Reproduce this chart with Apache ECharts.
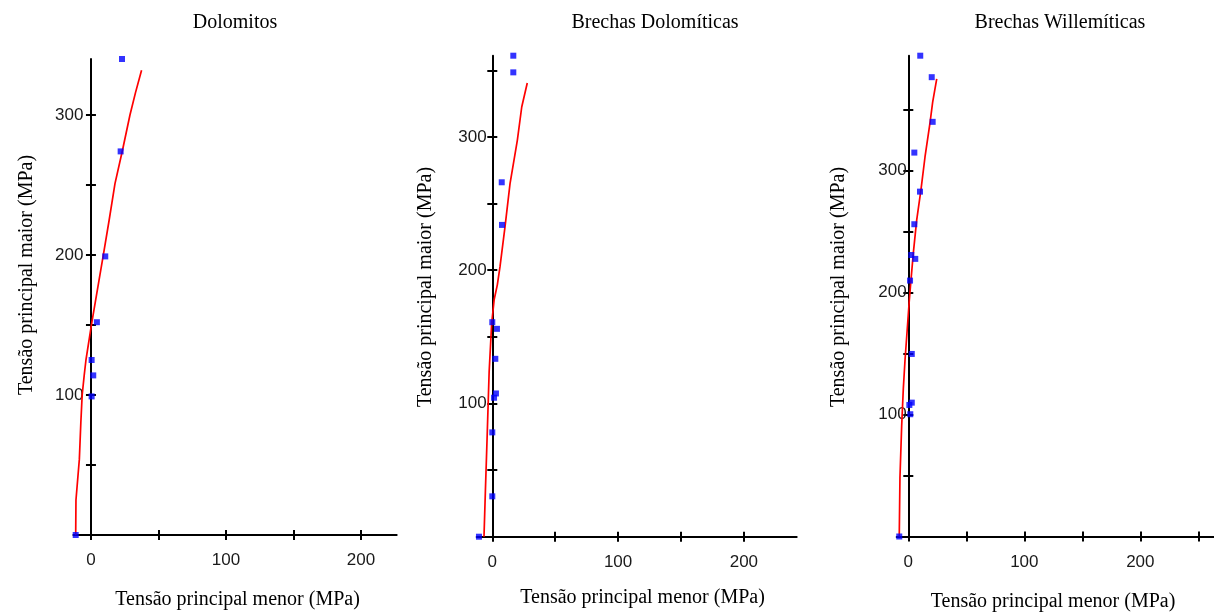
<!DOCTYPE html>
<html>
<head>
<meta charset="utf-8">
<script src="https://cdn.jsdelivr.net/npm/echarts@6/dist/echarts.min.js"></script>
<style>html,body{margin:0;padding:0;background:#fff}#c{width:1214px;height:613px}</style>
</head>
<body>
<div id="c"></div>
<script>
// ---- data ----
const titles = ['Dolomitos', 'Brechas Dolomíticas', 'Brechas Willemíticas'];
const xName = 'Tensão principal menor (MPa)';
const yName = 'Tensão principal maior (MPa)';

const dolomitosPoints = [[23,340],[22,274],[10.6,199],[4.4,152],[0.5,125],[1.7,114],[0.5,99],[-11.3,0]];
const dolomitosCurve = [[-11.3,0],[-11.1,25],[-8.6,54],[-7.5,80],[-6.5,100],[-5,114],[-3.7,125],[0.5,151],[6,182],[9,199],[13.5,225],[17.8,251],[23.4,275],[28.9,300],[33,316],[37.5,332]];

const brechasDolPoints = [[16.7,361],[16.7,348.5],[7.5,266],[7.7,234],[0,161],[3.7,156],[2.4,133.5],[2.9,107.5],[1.4,104.3],[0,78.3],[0,30.3],[-10.6,0]];
const brechasDolCurve = [[-6.6,0],[-5.5,34],[-4,78],[-2.5,124],[-0.5,160],[1.5,178],[4,189],[6.1,202.5],[10.1,232.5],[14.1,265],[19.9,297.5],[23.4,322.5],[27.8,340.5]];

const brechasWilPoints = [[10.3,394],[20.2,376.4],[21,339.8],[5.2,314.6],[10.1,282.6],[5.2,255.9],[2.6,230.7],[6,227.5],[1.5,209.7],[3,149.6],[3,109.7],[0.9,107.8],[1.7,100.2],[-7.8,0]];
const brechasWilCurve = [[-7.8,0],[-7.2,48],[-5.7,91],[-4.3,121],[-2.8,145],[-0.9,170],[0.9,194],[2.3,210],[4.3,232],[7.2,259],[10.9,284],[14.4,311],[18.7,339],[21,356],[24.5,375]];

const xTicks = [[0,50,100,150,200],[0,50,100,150,200],[0,50,100,150,200,250]];
const xLabels = [0,100,200];
const yTicks = [[50,100,150,200,250,300],[50,100,150,200,250,300,350],[50,100,150,200,250,300,350]];
const yLabels = [100,200,300];
const xRanges = [[-13,226.5],[-12.4,242],[-10,263.5]];
const yRanges = [[0,340],[0,361],[0,394]];

const pointsSets = [dolomitosPoints, brechasDolPoints, brechasWilPoints];
const curveSets = [dolomitosCurve, brechasDolCurve, brechasWilCurve];

// ---- layout ----
const grids = [
  {left:73.4, top:59, width:323.3, height:476},
  {left:476.7, top:55.7, width:320, height:481},
  {left:896.7, top:55.7, width:317.3, height:480.8}
];
const titlePos = [[235,23],[655,23],[1060,23]];
const xNamePos = [[237.5,600],[642.5,598],[1053,601.5]];
const yNamePos = [[27,275],[426,287],[839,287]];

const labelFont = {fontFamily:'Liberation Sans', fontSize:17, color:'#1a1a1a'};
const serif = '20px "Liberation Serif"';

const option = {
  animation:false,
  backgroundColor:'#fff',
  grid: grids.map(g => Object.assign({containLabel:false, outerBoundsMode:'none'}, g)),
  xAxis: [], yAxis: [], series: [], graphic: []
};

for (let i = 0; i < 3; i++) {
  const xi = option.xAxis.length, yi = option.yAxis.length;
  option.xAxis.push({
    type:'value', gridIndex:i, position:'bottom', min:xRanges[i][0], max:xRanges[i][1],
    axisLine:{show:true, onZero:false, lineStyle:{color:'#000', width:2}},
    axisTick:{show:true, inside:false, length:5, lineStyle:{color:'#000', width:2}, customValues:xTicks[i]},
    axisLabel:Object.assign({show:true, margin:17, customValues:xLabels}, labelFont),
    splitLine:{show:false}
  });
  option.xAxis.push({
    type:'value', gridIndex:i, position:'bottom', offset:0, min:xRanges[i][0], max:xRanges[i][1],
    axisLine:{show:false, onZero:false},
    axisTick:{show:true, inside:true, length:5, lineStyle:{color:'#000', width:2}, customValues:xTicks[i]},
    axisLabel:{show:false}, splitLine:{show:false}
  });
  option.yAxis.push({
    type:'value', gridIndex:i, position:'left', min:yRanges[i][0], max:yRanges[i][1],
    axisLine:{show:true, onZero:true, onZeroAxisIndex:xi, lineStyle:{color:'#000', width:2}},
    axisTick:{show:true, inside:false, length:5, lineStyle:{color:'#000', width:2}, customValues:yTicks[i]},
    axisLabel:Object.assign({show:true, margin:-10, customValues:yLabels}, labelFont),
    splitLine:{show:false}
  });
  option.yAxis.push({
    type:'value', gridIndex:i, position:'left', min:yRanges[i][0], max:yRanges[i][1],
    axisLine:{show:true, onZero:true, onZeroAxisIndex:xi, lineStyle:{color:'rgba(0,0,0,0)', width:0}},
    axisTick:{show:true, inside:true, length:5, lineStyle:{color:'#000', width:2}, customValues:yTicks[i]},
    axisLabel:{show:false}, splitLine:{show:false}
  });
  option.series.push({
    type:'line', xAxisIndex:xi, yAxisIndex:yi, data:curveSets[i],
    showSymbol:false, symbol:'none', clip:false,
    lineStyle:{color:'#ff0000', width:1.7}, z:3
  });
  option.series.push({
    type:'scatter', xAxisIndex:xi, yAxisIndex:yi, data:pointsSets[i],
    symbol:'rect', symbolSize:6, clip:false,
    itemStyle:{color:'#0000ff'}, z:4
  });
  option.graphic.push({type:'text', x:titlePos[i][0], y:titlePos[i][1],
    style:{text:titles[i], font:serif, fill:'#000', align:'center', verticalAlign:'middle'}});
  option.graphic.push({type:'text', x:xNamePos[i][0], y:xNamePos[i][1],
    style:{text:xName, font:serif, fill:'#000', align:'center', verticalAlign:'middle'}});
  option.graphic.push({type:'text', x:yNamePos[i][0], y:yNamePos[i][1], rotation:Math.PI/2,
    style:{text:yName, font:serif, fill:'#000', align:'center', verticalAlign:'middle'}});
}

const chart = echarts.init(document.getElementById('c'), null, {renderer:'canvas'});
chart.setOption(option);
</script>
</body>
</html>
